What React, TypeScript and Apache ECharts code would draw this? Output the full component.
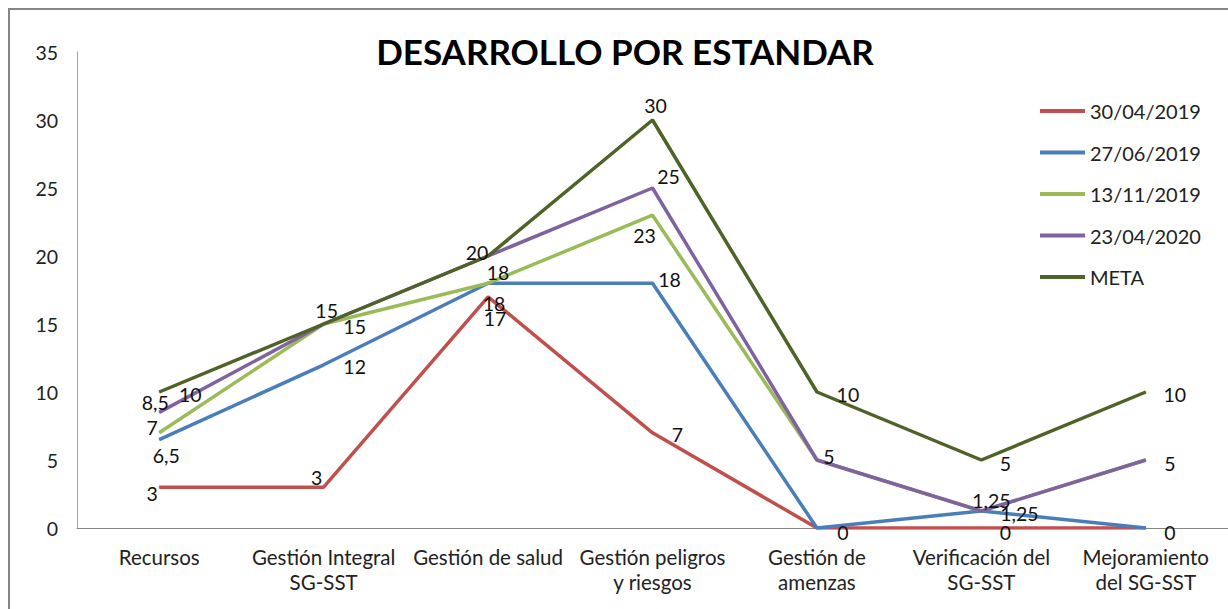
import React, { useEffect, useRef } from "react";
import * as echarts from "echarts";

const categories = [
  "Recursos",
  "Gestión Integral\nSG-SST",
  "Gestión de salud",
  "Gestión peligros\ny riesgos",
  "Gestión de\namenzas",
  "Verificación del\nSG-SST",
  "Mejoramiento\ndel SG-SST",
];

const seriesNames = ["30/04/2019", "27/06/2019", "13/11/2019", "23/04/2020", "META"];

const values2019Apr = [3, 3, 17, 7, 0, 0, 0];
const values2019Jun = [6.5, 12, 18, 18, 0, 1.25, 0];
const values2019Nov = [7, 15, 18, 23, 5, 1.25, 5];
const values2020Apr = [8.5, 15, 20, 25, 5, 1.25, 5];
const valuesMeta = [10, 15, 20, 30, 10, 5, 10];

const yTicks = { min: 0, max: 35, interval: 5 };

// label layout (offsets from each point, null = label hidden)
type Off = [number, number] | null;
const labelOffsets: Off[][] = [
  [[-7, 6], [-7, -10], [7, 22], [25, 2], null, [24, 4], null],
  [[7, 16], [31, 2], [6, 20], [17, -4], [26, 4], [38, 2], [24, 4]],
  [[-7, -5], [31, 2], [10, -11], [-8, 20], null, null, null],
  [[-4, -10], null, null, [16, -12], [12, -4], [10, -11], [24, 3]],
  [[31, 2], [3, -14], [-11, -4], [3, -15], [31, 2], [24, 3], [29, 2]],
];

const colors = ["#C0504D", "#4A7EBB", "#9BBB59", "#7F63A1", "#4F6228"];
const FONT = "Lato";

export default function App() {
  const ref = useRef<HTMLDivElement>(null);
  useEffect(() => {
    if (!ref.current) return;
    const chart = echarts.init(ref.current, undefined, { renderer: "svg" });
    const all = [values2019Apr, values2019Jun, values2019Nov, values2020Apr, valuesMeta];
    const fmt = (v: number) => String(v).replace(".", ",");
    chart.setOption({
      animation: false,
      backgroundColor: "#ffffff",
      title: {
        text: "DESARROLLO POR ESTANDAR",
        left: 620,
        textAlign: "center",
        top: 28,
        textStyle: { fontFamily: FONT, fontWeight: "bold", fontSize: 35, color: "#000" },
      },
      graphic: [
        {
          type: "rect",
          z: -10,
          shape: { x: 9, y: 9, width: 1300, height: 700 },
          style: { fill: "none", stroke: "#868686", lineWidth: 2 },
        },
      ],
      legend: {
        orient: "vertical",
        left: 1035,
        top: 96,
        icon: "rect",
        itemWidth: 45,
        itemHeight: 4,
        itemGap: 21.5,
        textStyle: { fontFamily: FONT, fontSize: 20, color: "#222", lineHeight: 20 },
        data: seriesNames,
      },
      grid: { left: 77, top: 52, width: 1157, height: 476 },
      xAxis: {
        type: "category",
        data: categories,
        boundaryGap: true,
        axisLine: { lineStyle: { color: "#868686", width: 1 } },
        axisTick: { show: false },
        axisLabel: {
          interval: 0,
          margin: 16,
          fontFamily: FONT,
          fontSize: 20.5,
          lineHeight: 25,
          color: "#222",
        },
      },
      yAxis: {
        type: "value",
        min: yTicks.min,
        max: yTicks.max,
        interval: yTicks.interval,
        splitLine: { show: false },
        axisLine: { show: true, lineStyle: { color: "#a6a6a6", width: 1 } },
        axisTick: { show: false },
        axisLabel: { margin: 19, fontFamily: FONT, fontSize: 19.5, color: "#222" },
      },
      series: all.map((vals, si) => ({
        name: seriesNames[si],
        type: "line",
        symbol: "circle",
        symbolSize: 1,
        showSymbol: true,
        lineStyle: { color: colors[si], width: 3.5 },
        itemStyle: { color: colors[si] },
        z: 2 + si,
        data: vals.map((v, i) => {
          const off = labelOffsets[si][i];
          return {
            value: v,
            label: off
              ? {
                  show: true,
                  position: "inside",
                  offset: off,
                  formatter: () => fmt(v),
                  fontFamily: FONT,
                  fontSize: 19.5,
                  color: "#111",
                }
              : { show: false },
          };
        }),
      })),
    });
    return () => chart.dispose();
  }, []);
  return (
    <div
      ref={ref}
      style={{ position: "absolute", left: 0, top: 0, width: 1228, height: 609, overflow: "hidden" }}
    />
  );
}
